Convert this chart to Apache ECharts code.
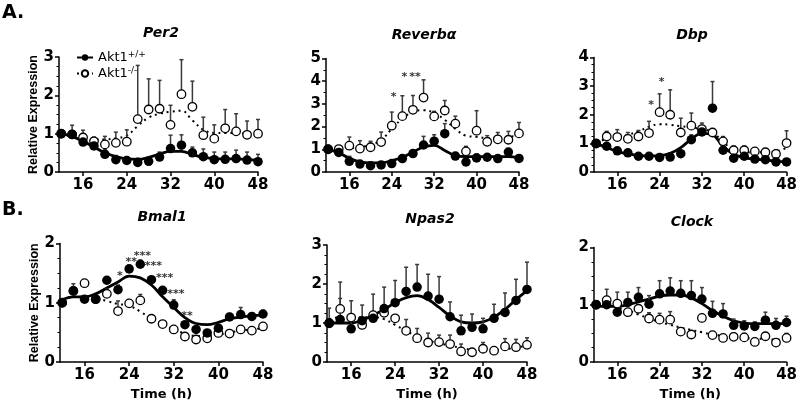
<!DOCTYPE html>
<html><head><meta charset="utf-8">
<script src="https://cdn.jsdelivr.net/npm/echarts@6/dist/echarts.min.js"></script>
<style>html,body{margin:0;padding:0;background:#fff}#c{width:800px;height:407px}</style>
</head><body><div id="c"></div>
<script>
const hours = [12,14,16,18,20,22,24,26,28,30,32,34,36,38,40,42,44,46,48];
const xTicks = [16,24,32,40,48];

// Per2
const per2WT    = [1.0,0.98,0.78,0.68,0.46,0.32,0.30,0.25,0.28,0.39,0.61,0.70,0.50,0.40,0.32,0.33,0.35,0.31,0.27];
const per2WTErr = [null,1.22,null,0.91,0.60,0.43,0.40,0.36,0.38,0.52,0.96,0.97,0.65,0.60,0.52,0.52,0.57,0.52,0.46];
const per2KO    = [1.0,0.98,0.90,0.80,0.72,0.76,0.79,1.38,1.63,1.65,1.23,2.03,1.70,0.96,0.87,1.14,1.06,0.97,1.0];
const per2KOErr = [null,null,1.09,null,0.93,1.04,1.10,2.78,2.43,2.39,1.74,2.93,2.37,1.43,1.23,1.63,1.52,1.33,1.37];
const per2WTFit = [1.0,0.93,0.80,0.65,0.50,0.40,0.34,0.33,0.38,0.47,0.54,0.54,0.46,0.38,0.35,0.34,0.34,0.33,0.30];
const per2KOFit = [1.0,0.92,0.86,0.85,0.85,0.88,0.95,1.20,1.42,1.52,1.57,1.60,1.35,1.10,1.02,1.02,1.02,1.0,1.0];

// Reverb alpha
const revWT    = [1.01,0.86,0.47,0.35,0.28,0.31,0.37,0.59,0.81,1.19,1.36,1.69,0.70,0.44,0.62,0.65,0.59,0.88,0.60];
const revWTErr = [null,null,0.69,null,null,null,null,null,null,1.57,1.64,2.13,null,null,0.80,0.78,0.72,1.03,0.72];
const revKO    = [1.0,1.01,1.16,1.03,1.09,1.32,2.04,2.46,2.74,3.28,2.45,2.71,2.13,0.91,1.82,1.33,1.44,1.42,1.70];
const revKOErr = [null,1.05,1.54,1.38,1.35,1.76,2.64,3.36,3.37,4.06,2.67,3.15,2.46,1.13,2.70,1.60,1.74,1.79,2.18];
const revWTFit = [1.0,0.85,0.60,0.45,0.40,0.40,0.50,0.65,0.88,1.10,1.17,0.95,0.72,0.68,0.68,0.68,0.68,0.68,0.62];
const revKOFit = [1.0,1.0,1.05,1.10,1.20,1.40,1.90,2.35,2.65,2.72,2.60,2.30,1.90,1.60,1.55,1.50,1.50,1.55,1.60];
const revStars = [[24,3.3,'*'],[26,4.2,'*'],[28,4.2,'**']];

// Dbp
const dbpWT    = [0.99,0.90,0.74,0.67,0.55,0.55,0.51,0.52,0.64,1.13,1.40,2.23,0.76,0.48,0.55,0.45,0.43,0.35,0.35];
const dbpWTErr = [null,null,null,null,null,null,null,null,null,1.30,1.62,3.16,0.90,null,null,null,null,null,null];
const dbpKO    = [1.0,1.24,1.22,1.16,1.24,1.36,2.09,2.00,1.38,1.62,1.50,1.38,1.07,0.76,0.76,0.72,0.69,0.63,1.01];
const dbpKOErr = [null,1.42,1.48,1.38,1.45,1.77,2.73,2.87,1.88,2.06,1.71,null,1.24,0.90,0.90,null,0.80,0.78,1.44];
const dbpWTFit = [1.0,0.85,0.72,0.63,0.58,0.56,0.57,0.65,0.85,1.15,1.35,1.30,0.90,0.62,0.50,0.45,0.42,0.38,0.35];
const dbpKOFit = [1.05,1.15,1.22,1.30,1.42,1.58,1.67,1.65,1.60,1.55,1.50,1.40,1.05,0.78,0.70,0.68,0.70,0.72,0.85];
const dbpStars = [[22,2.35,'*'],[24,3.15,'*']];

// Bmal1
const bmalWT    = [1.0,1.20,1.06,1.06,1.38,1.22,1.57,1.65,1.39,1.21,0.96,0.63,0.55,0.49,0.57,0.76,0.80,0.77,0.81];
const bmalWTErr = [null,1.32,null,null,null,1.30,1.64,1.72,null,null,1.05,null,null,null,null,0.82,0.92,null,0.87];
const bmalKO    = [1.0,1.20,1.33,1.06,1.15,0.86,0.99,1.04,0.73,0.64,0.55,0.43,0.38,0.40,0.49,0.48,0.55,0.53,0.60];
const bmalKOErr = [null,null,null,null,1.23,1.03,null,1.14,null,null,null,null,null,null,null,null,null,null,null];
const bmalWTFit = [1.05,1.10,1.10,1.15,1.25,1.35,1.45,1.42,1.30,1.10,0.92,0.75,0.65,0.63,0.67,0.73,0.76,0.78,0.79];
const bmalKOFit = [1.05,1.10,1.10,1.08,1.03,0.98,0.95,0.85,0.73,0.63,0.55,0.48,0.44,0.44,0.46,0.50,0.53,0.55,0.57];
const bmalStars = [[22,1.45,'*'],[24,1.68,'**'],[26,1.78,'***'],[28,1.61,'***'],[30,1.41,'***'],[32,1.14,'***'],[34,0.77,'**']];

// Npas2
const npasWT    = [0.99,1.09,0.85,1.06,1.12,1.37,1.52,1.81,1.92,1.69,1.61,1.16,0.80,0.89,0.85,1.12,1.27,1.58,1.86];
const npasWTErr = [null,2.05,1.57,1.46,1.74,1.92,2.09,2.43,2.50,2.25,2.19,1.54,1.20,1.23,1.12,1.48,1.77,2.12,2.56];
const npasKO    = [1.0,1.36,1.14,0.95,1.20,1.26,1.12,0.80,0.61,0.50,0.51,0.46,0.27,0.25,0.34,0.29,0.40,0.38,0.44];
const npasKOErr = [1.38,1.63,null,null,null,null,null,1.09,0.86,0.74,0.69,0.69,0.46,null,0.50,null,0.60,0.58,0.62];
const npasWTFit = [1.0,1.0,1.0,1.07,1.20,1.35,1.52,1.65,1.70,1.60,1.40,1.18,1.03,1.0,1.03,1.15,1.35,1.60,1.83];
const npasKOFit = [1.10,1.15,1.15,1.15,1.15,1.10,0.95,0.80,0.65,0.55,0.48,0.42,0.36,0.32,0.31,0.31,0.33,0.37,0.42];

// Clock
const clockWT    = [1.0,1.0,0.87,1.04,1.13,1.01,1.19,1.24,1.20,1.16,1.10,0.85,0.84,0.64,0.63,0.62,0.73,0.64,0.69];
const clockWTErr = [null,1.27,1.22,1.22,1.30,1.16,1.42,1.47,1.42,1.42,1.30,1.06,1.02,0.75,0.72,0.70,0.87,0.76,0.80];
const clockKO    = [1.0,1.08,1.02,0.87,0.93,0.76,0.74,0.74,0.53,0.48,0.77,0.47,0.42,0.44,0.43,0.35,0.45,0.34,0.42];
const clockKOErr = [null,null,null,null,null,0.86,0.85,0.88,null,null,null,null,null,0.50,0.50,null,0.50,null,0.50];
const clockWTFit = [0.98,0.97,0.97,1.0,1.05,1.10,1.15,1.17,1.17,1.12,1.02,0.90,0.80,0.72,0.68,0.67,0.67,0.67,0.67];
const clockKOFit = [1.0,1.0,0.95,0.90,0.83,0.76,0.70,0.65,0.60,0.56,0.52,0.48,0.46,0.44,0.42,0.41,0.40,0.39,0.38];

const panels = [
  {title:'Per2', yMax:3, wt:per2WT, wtErr:per2WTErr, ko:per2KO, koErr:per2KOErr, wtFit:per2WTFit, koFit:per2KOFit, stars:[],
   left:59, width:199, top:57, height:115, yName:'Relative Expression', xName:'', tx:161, ty:33, minor:4},
  {title:'Reverb\u03b1', yMax:5, wt:revWT, wtErr:revWTErr, ko:revKO, koErr:revKOErr, wtFit:revWTFit, koFit:revKOFit, stars:revStars,
   left:326, width:193, top:58.5, height:113.5, yName:'', xName:'', tx:424, ty:35, minor:2},
  {title:'Dbp', yMax:4, wt:dbpWT, wtErr:dbpWTErr, ko:dbpKO, koErr:dbpKOErr, wtFit:dbpWTFit, koFit:dbpKOFit, stars:dbpStars,
   left:594, width:195, top:57.5, height:114.5, yName:'', xName:'', tx:692, ty:35, minor:4},
  {title:'Bmal1', yMax:2, wt:bmalWT, wtErr:bmalWTErr, ko:bmalKO, koErr:bmalKOErr, wtFit:bmalWTFit, koFit:bmalKOFit, stars:bmalStars,
   left:60, width:203, top:243.5, height:118.5, yName:'Relative Expression', xName:'Time (h)', tx:162, ty:217, minor:4},
  {title:'Npas2', yMax:3, wt:npasWT, wtErr:npasWTErr, ko:npasKO, koErr:npasKOErr, wtFit:npasWTFit, koFit:npasKOFit, stars:[],
   left:327, width:200, top:245, height:117, yName:'', xName:'Time (h)', tx:430, ty:219, minor:4},
  {title:'Clock', yMax:2, wt:clockWT, wtErr:clockWTErr, ko:clockKO, koErr:clockKOErr, wtFit:clockWTFit, koFit:clockKOFit, stars:[],
   left:594, width:196, top:247.5, height:114.5, yName:'', xName:'Time (h)', tx:692, ty:222, minor:4}
];

const FONT = '"DejaVu Sans", sans-serif';
const NFONT = '"Liberation Sans", Arial, sans-serif';
const grid = [], xAxis = [], yAxis = [], series = [], graphic = [];

function pairs(vals){ return hours.map((h,i)=> vals[i]==null ? null : [h, vals[i]]).filter(Boolean); }
function errData(vals, errs){ return hours.map((h,i)=> errs[i]==null ? null : [h, vals[i], errs[i]]).filter(Boolean); }

function errRender(params, api){
  const p0 = api.coord([api.value(0), api.value(1)]);
  const p1 = api.coord([api.value(0), api.value(2)]);
  const st = {stroke:'#3a3a3a', lineWidth:1.5};
  return {type:'group', children:[
    {type:'line', shape:{x1:p0[0], y1:p0[1], x2:p1[0], y2:p1[1]}, style:st},
    {type:'line', shape:{x1:p1[0]-2, y1:p1[1], x2:p1[0]+2, y2:p1[1]}, style:st}
  ]};
}

panels.forEach((p, k) => {
  grid.push({left:p.left, top:p.top, width:p.width, height:p.height});
  xAxis.push({
    type:'value', gridIndex:k, min:11.6, max:48,
    axisLine:{lineStyle:{color:'#000', width:1.5}},
    axisTick:{show:true, length:4, customValues:xTicks, lineStyle:{color:'#000', width:1.5}},
    axisLabel:{customValues:xTicks, color:'#000', fontFamily:FONT, fontWeight:'bold', fontSize:15, margin:6},
    splitLine:{show:false},
    name:p.xName, nameLocation:'middle', nameGap:26,
    nameTextStyle:{color:'#000', fontFamily:FONT, fontWeight:'bold', fontSize:13}
  });
  yAxis.push({
    type:'value', gridIndex:k, min:0, max:p.yMax, interval:1,
    axisLine:{show:true, lineStyle:{color:'#000', width:1.5}},
    axisTick:{show:true, length:4, lineStyle:{color:'#000', width:1.5}},
    minorTick:{show:true, splitNumber:p.minor, length:2.5, lineStyle:{color:'#000', width:1}},
    axisLabel:{color:'#000', fontFamily:FONT, fontWeight:'bold', fontSize:15, margin:5},
    splitLine:{show:false},
    name:p.yName, nameLocation:'middle', nameGap:17,
    nameTextStyle:{color:'#000', fontFamily:NFONT, fontWeight:'bold', fontSize:12.5}
  });
  series.push({type:'line', xAxisIndex:k, yAxisIndex:k, data:pairs(p.koFit), smooth:0.4, symbol:'none', z:1,
    lineStyle:{color:'#000', width:2, type:[2,4]}, silent:true});
  series.push({type:'line', xAxisIndex:k, yAxisIndex:k, data:pairs(p.wtFit), smooth:0.4, symbol:'none', z:2,
    lineStyle:{color:'#000', width:2.8}, silent:true});
  series.push({type:'custom', xAxisIndex:k, yAxisIndex:k, data:errData(p.ko, p.koErr), renderItem:errRender, z:3, silent:true});
  series.push({type:'custom', xAxisIndex:k, yAxisIndex:k, data:errData(p.wt, p.wtErr), renderItem:errRender, z:3, silent:true});
  series.push({type:'scatter', xAxisIndex:k, yAxisIndex:k, data:pairs(p.ko), symbol:'circle', symbolSize:8.5, z:4,
    itemStyle:{color:'#fff', borderColor:'#000', borderWidth:1.3, opacity:1}, silent:true});
  series.push({type:'scatter', xAxisIndex:k, yAxisIndex:k, data:pairs(p.wt), symbol:'circle', symbolSize:9.5, z:5,
    itemStyle:{color:'#000', opacity:1}, silent:true});
  if (p.stars.length) {
    series.push({type:'scatter', xAxisIndex:k, yAxisIndex:k, data:p.stars, symbolSize:0, z:6, silent:true,
      label:{show:true, position:'inside', offset:[2,0], formatter:d=>d.value[2], color:'#000', fontFamily:FONT, fontWeight:'bold', fontSize:11}});
  }
  graphic.push({type:'text', x:p.tx, y:p.ty, style:{text:p.title, align:'center', verticalAlign:'middle',
    font:'italic bold 14px "DejaVu Sans", sans-serif', fill:'#000'}});
});

// legend-only series
series.push({type:'line', name:'wt', xAxisIndex:0, yAxisIndex:0, data:[], symbol:'circle', symbolSize:8,
  itemStyle:{color:'#000'}, lineStyle:{color:'#000', width:2.6}});
series.push({type:'line', name:'ko', xAxisIndex:0, yAxisIndex:0, data:[], symbol:'circle', symbolSize:7,
  itemStyle:{color:'#fff', borderColor:'#000', borderWidth:1.2}, lineStyle:{color:'#000', width:2, type:[2,3]}});

graphic.push({type:'text', x:2, y:13, style:{text:'A.', verticalAlign:'middle', font:'bold 19px "DejaVu Sans", sans-serif', fill:'#000'}});
graphic.push({type:'text', x:2, y:210, style:{text:'B.', verticalAlign:'middle', font:'bold 19px "DejaVu Sans", sans-serif', fill:'#000'}});

const chart = echarts.init(document.getElementById('c'), null, {renderer:'canvas'});
chart.setOption({
  animation:false,
  backgroundColor:'#fff',
  grid, xAxis, yAxis, series, graphic,
  legend:{
    data:['wt','ko'], orient:'vertical', left:71, top:45, itemWidth:16, itemHeight:8, itemGap:1,
    formatter: n => n === 'wt' ? 'Akt1{s|+/+}' : 'Akt1{s|-/-}',
    textStyle:{color:'#000', fontFamily:FONT, fontSize:13, lineHeight:15,
      rich:{s:{fontSize:9, verticalAlign:'top', lineHeight:15, fontFamily:FONT}}}
  }
});
</script></body></html>
